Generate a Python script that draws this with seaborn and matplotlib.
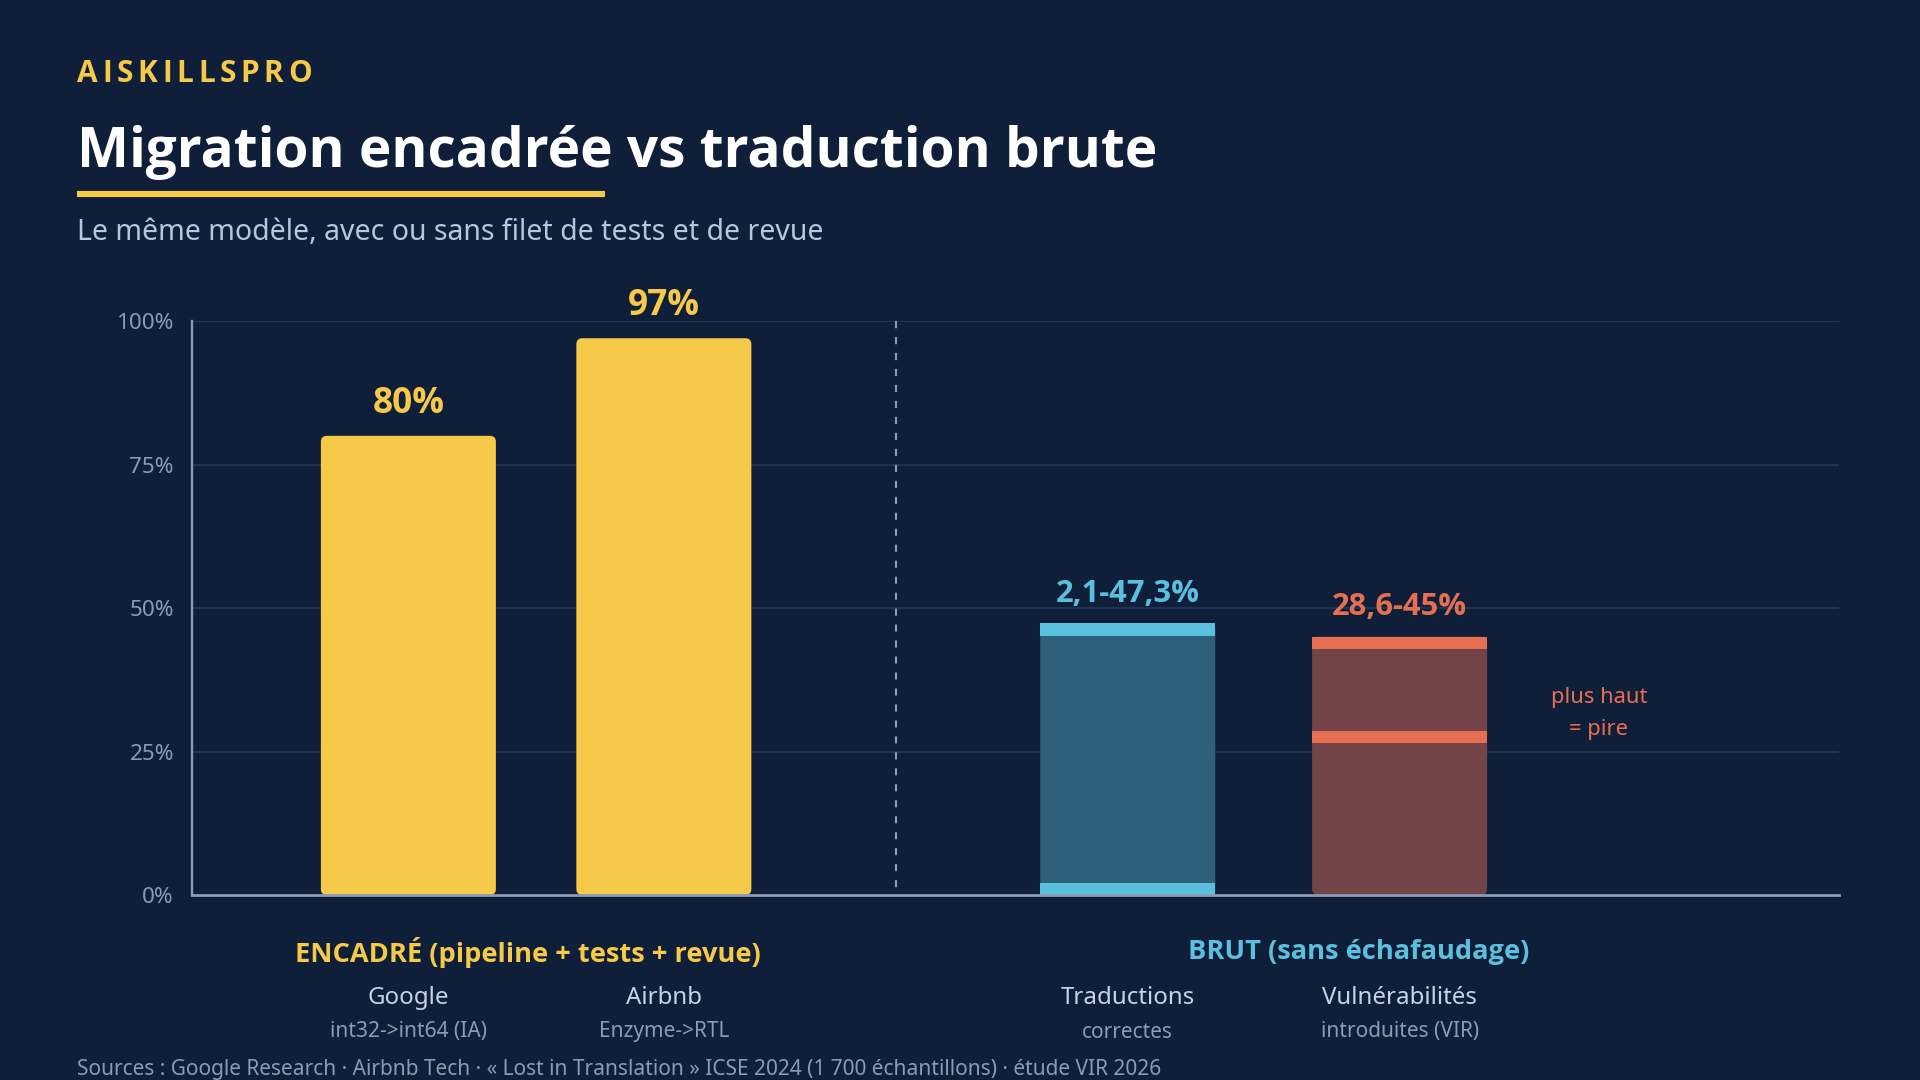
import numpy as np
import pandas as pd
import matplotlib
matplotlib.use("Agg")
import matplotlib.pyplot as plt
import seaborn as sns
from matplotlib.patches import FancyBboxPatch
from matplotlib.lines import Line2D
from matplotlib.transforms import blended_transform_factory

# ---------------- data ----------------
categories = ["Google", "Airbnb", "Traductions", "Vulnérabilités"]
sublabels = ["int32->int64 (IA)", "Enzyme->RTL", "correctes", "introduites (VIR)"]
group_labels = ["ENCADRÉ (pipeline + tests + revue)", "BRUT (sans échafaudage)"]
encadre_values = [80, 97]
brut_low = [2.1, 28.6]
brut_high = [47.3, 45.0]
value_labels = ["80%", "97%", "2,1-47,3%", "28,6-45%"]
y_ticks = [0, 25, 50, 75, 100]
y_ticklabels = ["0%", "25%", "50%", "75%", "100%"]
brand = "AISKILLSPRO"
title = "Migration encadrée vs traduction brute"
subtitle = "Le même modèle, avec ou sans filet de tests et de revue"
note_lines = ["plus haut", "= pire"]
sources = ("Sources : Google Research · Airbnb Tech · « Lost in Translation » "
           "ICSE 2024 (1 700 échantillons) · étude VIR 2026")

# ---------------- layout / style ----------------
x_pos = [0.0, 1.0, 2.816, 3.88]
divider_x = 1.908
xlim = (-0.847, 5.6)
bar_width = 0.685
group_x = [0.468, 3.72]
note_x = 4.66

BG = "#0f1f3a"
GRID = "#1e3354"
AXIS = "#8a9bb8"
YEL = "#f7c948"
CY = "#5bc0de"
CY_FILL = "#2e5f7b"
RD = "#e76f51"
RD_FILL = "#724447"
WHITE = "#ffffff"
SUB = "#b9c5db"
CAT = "#c8d2e4"
MUTED = "#8a9bb8"
BOLD = ["Open Sans", "DejaVu Sans"]

W, H = 1920, 1080
sns.set_theme(style="white")
plt.rcParams["font.family"] = ["Noto Sans", "DejaVu Sans"]
plt.rcParams["lines.scale_dashes"] = False

fig = plt.figure(figsize=(W / 100, H / 100), dpi=100)
fig.patch.set_facecolor(BG)
ax_left, ax_right, ax_top, ax_bot = 192, 1839, 321, 895
ax = fig.add_axes([ax_left / W, 1 - ax_bot / H, (ax_right - ax_left) / W, (ax_bot - ax_top) / H])
ax.set_facecolor(BG)

# main bars
df = pd.DataFrame({"x": x_pos, "value": encadre_values + brut_high, "cat": categories})
sns.barplot(data=df, x="x", y="value", hue="cat", hue_order=categories,
            palette=[YEL, YEL, CY_FILL, RD_FILL], native_scale=True, width=bar_width,
            dodge=False, legend=False, saturation=1, errorbar=None, linewidth=0,
            ax=ax, zorder=2)

ax.set_xlim(*xlim)
ax.set_ylim(0, 100)

# round the bar corners (geometry read back from seaborn's bars)
px_x = (ax_right - ax_left) / (xlim[1] - xlim[0])
px_y = (ax_bot - ax_top) / 100.0
r_px = 6
for p in list(ax.patches):
    fb = FancyBboxPatch((p.get_x(), p.get_y()), p.get_width(), p.get_height(),
                        boxstyle=f"round,pad=0,rounding_size={r_px / px_x}",
                        mutation_aspect=px_x / px_y,
                        facecolor=p.get_facecolor(), edgecolor="none", zorder=2)
    p.set_visible(False)
    ax.add_patch(fb)

# range caps (low and high ends)
cap_h = 2.1
for xp, lo, hi, col in zip(x_pos[2:], brut_low, brut_high, [CY, RD]):
    for v in (lo, hi):
        b = max(v - cap_h, 0)
        sns.barplot(x=[xp], y=[v - b], bottom=b, native_scale=True, width=bar_width,
                    color=col, saturation=1, errorbar=None, linewidth=0, ax=ax, zorder=3)

ax.set_xlim(*xlim)
ax.set_ylim(0, 100)

# grid, spines, ticks
for yt in y_ticks[1:]:
    ax.axhline(yt, color=GRID, lw=1.6, zorder=0)
for s in ["top", "right"]:
    ax.spines[s].set_visible(False)
ax.spines["left"].set_color(AXIS)
ax.spines["left"].set_linewidth(1.7)
ax.spines["bottom"].set_color(AXIS)
ax.spines["bottom"].set_linewidth(2.0)
ax.spines["bottom"].set_zorder(4)
ax.set_yticks(y_ticks)
ax.set_yticklabels(y_ticklabels)
ax.tick_params(axis="y", length=0, pad=13, labelsize=16.2, labelcolor=MUTED)
ax.set_xticks([])
ax.set_xlabel("")
ax.set_ylabel("")

# divider
ax.plot([divider_x, divider_x], [100, 0], color=AXIS, lw=1.5,
        linestyle=(0, (5.2, 6.3)), zorder=1)

# value labels
tops = encadre_values + brut_high
label_cols = [YEL, YEL, CY, RD]
label_sizes = [25.3, 25.3, 22.2, 22.2]
label_off = [23.0, 23.0, 21.2, 21.2]
for xp, t, txt, c, fs, off in zip(x_pos, tops, value_labels, label_cols, label_sizes, label_off):
    ax.annotate(txt, xy=(xp, t), xytext=(0, off), textcoords="offset points",
                ha="center", va="center", fontsize=fs, fontweight="bold", color=c,
                family=BOLD)

# note
for i, line in enumerate(note_lines):
    ax.text(note_x, 34.4 - i * 5.6, line, ha="center", va="center", fontsize=15.8, color=RD)

# x labels below axis (x in data, y in figure)
tr = blended_transform_factory(ax.transData, fig.transFigure)
for gx, gl, gc in zip(group_x, group_labels, [YEL, CY]):
    ax.text(gx, 1 - 952 / H, gl, transform=tr, ha="center", va="center",
            fontsize=19.6, fontweight="bold", color=gc, family=BOLD)
for xp, cat, sl in zip(x_pos, categories, sublabels):
    ax.text(xp, 1 - 998 / H, cat, transform=tr, ha="center", va="center",
            fontsize=17.3, color=CAT)
    ax.text(xp, 1 - 1032 / H, sl, transform=tr, ha="center", va="center",
            fontsize=15, color=MUTED)

# header
renderer = fig.canvas.get_renderer()
bx = 77
for ch in brand:
    t = fig.text(bx / W, 1 - 74 / H, ch, ha="left", va="center", fontsize=21.5,
                 fontweight="bold", color=YEL, family=BOLD)
    w = t.get_window_extent(renderer).width
    bx += w + 4.6

fig.text(77 / W, 1 - 153 / H, title, ha="left", va="center", fontsize=39.6,
         fontweight="bold", color=WHITE, family=BOLD)
fig.add_artist(Line2D([77 / W, 605 / W], [1 - 193.5 / H, 1 - 193.5 / H],
                      color=YEL, lw=4.4, solid_capstyle="butt", transform=fig.transFigure))
fig.text(77 / W, 1 - 233 / H, subtitle, ha="left", va="center", fontsize=20.5, color=SUB)
fig.text(77 / W, 1 - 1070 / H, sources, ha="left", va="center", fontsize=15.0, color=MUTED)

fig.savefig("out.png", dpi=100, facecolor=BG)
